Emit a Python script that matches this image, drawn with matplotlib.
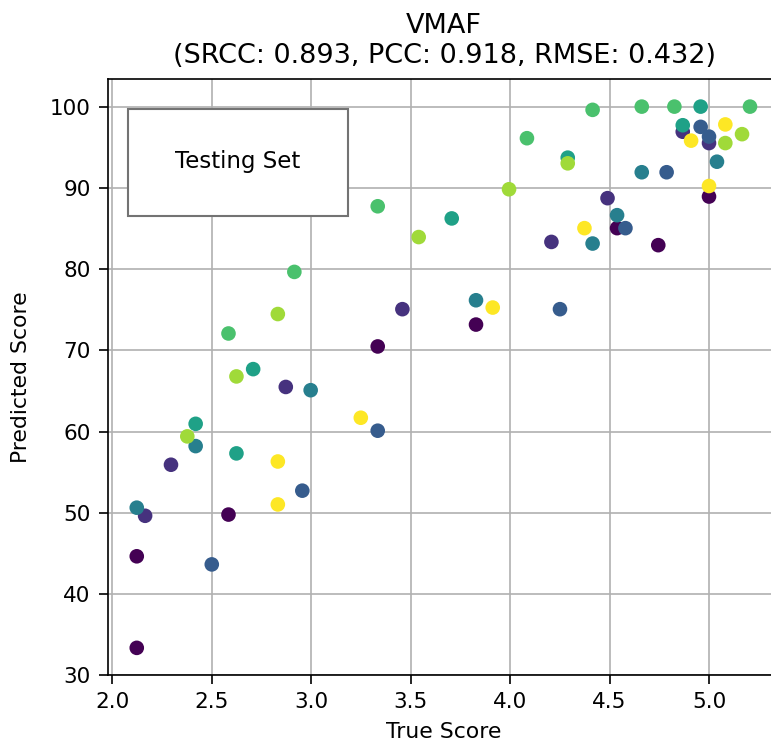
import matplotlib
matplotlib.use('Agg')
import matplotlib.pyplot as plt
from matplotlib.patches import Rectangle
import numpy as np

# subjective (true) score vs VMAF prediction, one dot per test video
TRUE_SCORE = [
    2.124, 2.124, 2.585, 3.335, 3.829, 4.538, 4.745, 5.000,
    2.166, 2.296, 2.873, 3.459, 4.208, 4.490, 4.868, 5.000,
    2.501, 2.956, 3.335, 4.251, 4.580, 4.787, 4.958, 5.000,
    2.124, 2.420, 2.998, 3.829, 4.415, 4.538, 4.662, 5.040,
    2.420, 2.625, 2.709, 3.707, 4.290, 4.868, 4.958,
    2.585, 2.916, 3.335, 4.085, 4.415, 4.662, 4.826, 5.206,
    2.378, 2.625, 2.833, 3.541, 3.995, 4.290, 5.082, 5.166,
    2.833, 2.833, 3.250, 3.913, 4.374, 4.910, 5.000, 5.082,
]
PREDICTED_SCORE = [
    33.3, 44.6, 49.75, 70.5, 73.2, 85.1, 83.0, 89.0,
    49.6, 55.9, 65.5, 75.1, 83.4, 88.8, 97.0, 95.6,
    43.6, 52.7, 60.1, 75.1, 85.1, 92.0, 97.6, 96.4,
    50.6, 58.2, 65.1, 76.2, 83.2, 86.7, 92.0, 93.3,
    60.95, 57.3, 67.7, 86.3, 93.8, 97.8, 100.1,
    72.1, 79.7, 87.8, 96.2, 99.7, 100.1, 100.1, 100.1,
    59.4, 66.8, 74.5, 84.0, 89.9, 93.1, 95.6, 96.7,
    51.0, 56.3, 61.7, 75.3, 85.1, 95.9, 90.3, 97.9,
]
# content group of each video (colour index)
GROUP = [0] * 8 + [1] * 8 + [2] * 8 + [3] * 8 + [4] * 7 + [5] * 8 + [6] * 8 + [7] * 8

TITLE = 'VMAF\n(SRCC: 0.893, PCC: 0.918, RMSE: 0.432)'

fig = plt.figure(figsize=(771 / 150, 742 / 150), dpi=150)
ax = fig.add_axes([0.1397, 0.0903, 0.8728, 0.8026])

ax.scatter(TRUE_SCORE, PREDICTED_SCORE, c=GROUP, cmap='viridis')
ax.set_xlim(1.978, 5.36)
ax.set_ylim(29.95, 103.45)
ax.set_xticks(np.arange(2.0, 5.01, 0.5))
ax.set_yticks(np.arange(30, 101, 10))
ax.tick_params(labelsize=10.3, length=4.2, pad=4)
ax.grid(True)
ax.set_axisbelow(True)

# "Testing Set" tag in the upper-left corner
ax.add_patch(Rectangle((0.0302, 0.7708), 0.3269, 0.1797, transform=ax.transAxes,
                       fc='white', ec='0.45', lw=1.0, zorder=3))
ax.text(0.1932, 0.862, 'Testing Set', transform=ax.transAxes,
        ha='center', va='center', fontsize=11, zorder=4)

ax.set_title(TITLE, fontsize=13, pad=8)
ax.set_xlabel('True Score', fontsize=10.5, labelpad=5)
ax.set_ylabel('Predicted Score', fontsize=10.5, labelpad=9)

fig.savefig('out.png', dpi=150)
